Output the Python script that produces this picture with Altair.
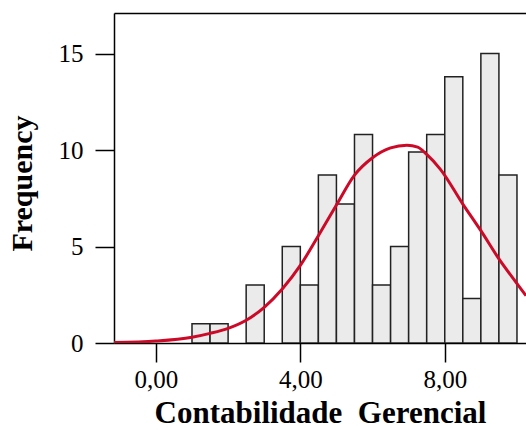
import altair as alt
import pandas as pd

# Histogram bins (start, end) and frequencies
bin_start = [1.0, 1.5, 2.5, 3.5, 4.0, 4.5, 5.0, 5.5, 6.0, 6.5, 7.0, 7.5, 8.0, 8.5, 9.0, 9.5]
bin_end = [1.5, 2.0, 3.0, 4.0, 4.5, 5.0, 5.5, 6.0, 6.5, 7.0, 7.5, 8.0, 8.5, 9.0, 9.5, 10.0]
freq = [1, 1, 3, 5, 3, 8.7, 7.2, 10.8, 3, 5, 9.9, 10.8, 13.8, 2.3, 15, 8.7]

# Normal curve points
curve_x = [-1.16, 0.0, 1.0, 1.5, 2.0, 2.5, 3.0, 3.5, 4.0, 4.5, 5.0, 5.5, 6.0,
           6.5, 6.95, 7.25, 7.5, 7.88, 8.5, 9.0, 9.5, 10.0, 10.25]
curve_y = [0.02, 0.1, 0.3, 0.5, 0.76, 1.18, 1.85, 2.8, 4.02, 5.56, 7.15, 8.7, 9.6,
           10.11, 10.25, 10.15, 9.77, 9.0, 7.2, 5.82, 4.36, 3.08, 2.45]

x_ticks = [0, 4, 8]
y_ticks = [0, 5, 10, 15]

bars_df = pd.DataFrame({"start": bin_start, "end": bin_end, "freq": freq})
curve_df = pd.DataFrame({"x": curve_x, "y": curve_y})

FONT = "Liberation Serif"
xscale = alt.Scale(domain=[-1.16, 10.25], nice=False, zero=False)
yscale = alt.Scale(domain=[0, 17.1], nice=False)

yaxis = alt.Axis(values=y_ticks, title="Frequency", format="d",
                 labelFont=FONT, labelFontSize=25, labelColor="black",
                 labelPadding=12, tickSize=19, tickWidth=1.5, tickColor="black",
                 domainColor="black", domainWidth=1.5, grid=False,
                 titleFont=FONT, titleFontSize=30, titleFontWeight="bold",
                 titleColor="black", titleAngle=270, titleX=-83, titleY=170,
                 titleAlign="center", titleBaseline="alphabetic")

bars = alt.Chart(bars_df).mark_bar(
    fill="#ebebeb", stroke="#222222", strokeWidth=1.5, clip=True
).encode(
    x=alt.X("start:Q", scale=xscale,
            axis=alt.Axis(orient="bottom", values=x_ticks, title="Contabilidade\u00a0 Gerencial",
                          labelExpr="replace(format(datum.value, '.2f'), '.', ',')",
                          labelFont=FONT, labelFontSize=25, labelColor="black",
                          labelBaseline="alphabetic", labelPadding=25,
                          tickSize=19, tickWidth=1.5, tickColor="black",
                          domainColor="black", domainWidth=1.5, grid=False,
                          titleFont=FONT, titleFontSize=31, titleFontWeight="bold",
                          titleColor="black", titleX=206, titleY=79,
                          titleAlign="center", titleBaseline="alphabetic")),
    x2="end:Q",
    y=alt.Y("freq:Q", scale=yscale, axis=yaxis),
    y2=alt.datum(0),
)

curve = alt.Chart(curve_df).mark_line(
    color="#cc0a28", strokeWidth=3, interpolate="monotone", clip=True
).encode(
    x=alt.X("x:Q", scale=xscale,
            axis=alt.Axis(orient="top", labels=False, ticks=False, title=None,
                          domainColor="black", domainWidth=1.5, grid=False)),
    y=alt.Y("y:Q", scale=yscale, axis=yaxis),
)

chart = alt.layer(bars, curve).resolve_axis(x="independent").properties(
    width=412, height=330,
    autosize=alt.AutoSizeParams(type="none"),
    padding={"left": 114, "top": 13, "right": 0, "bottom": 87},
    background="white",
).configure_view(stroke=None)

chart.save("out.html", embed_options={"renderer": "svg", "actions": False})
